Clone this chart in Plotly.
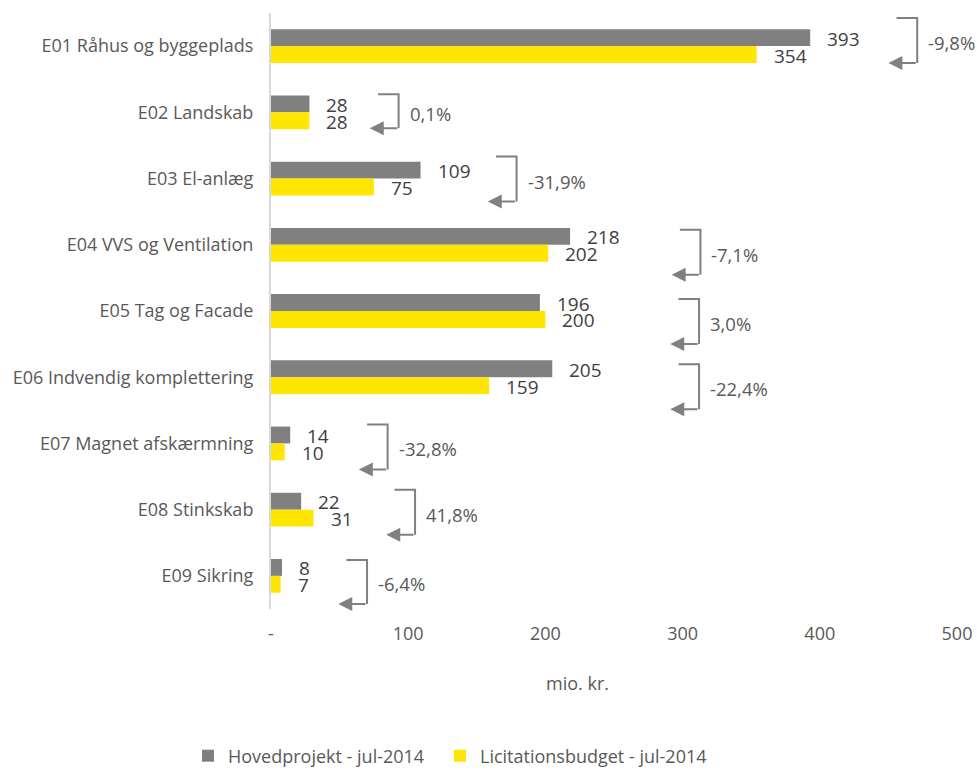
import plotly.graph_objects as go

categories = ["E01 Råhus og byggeplads", "E02 Landskab", "E03 El-anlæg", "E04 VVS og Ventilation",
              "E05 Tag og Facade", "E06 Indvendig komplettering", "E07 Magnet afskærmning",
              "E08 Stinkskab", "E09 Sikring"]
hovedprojekt = [393, 28, 109, 218, 196, 205, 14, 22, 8]
licitation = [354, 28, 75, 202, 200, 159, 10, 31, 7]
change_labels = ["-9,8%", "0,1%", "-31,9%", "-7,1%", "3,0%", "-22,4%", "-32,8%", "41,8%", "-6,4%"]
x_ticks = [0, 100, 200, 300, 400, 500]
x_ticktext = ["-", "100", "200", "300", "400", "500"]

# bracket placement (x in mio. kr., top/bottom as pixel offsets from category centre)
bracket_x = [471, 93, 179, 313, 312, 312, 85, 105, 70]
bracket_top = [-28, -18, -22, -15, -12, -13, -19, -20, -16]
bracket_bot = [17, 16, 23, 30, 33, 32, 26, 25, 28]

GRAY = "#808080"; YELLOW = "#FFE600"; TXT = "#595959"; VAL = "#404040"
FONT = "Open Sans"
W, H = 977, 770
ML, MR, MT, MB = 271, 20, 13, 161
plot_h = H - MT - MB
ppc = plot_h / len(categories)
bargap = 0.49
off = (1 - bargap) / 4

fig = go.Figure()
fig.add_trace(go.Bar(y=categories, x=hovedprojekt, orientation="h", name="Hovedprojekt - jul-2014",
                     marker=dict(color=GRAY, line=dict(width=0)), legend="legend"))
fig.add_trace(go.Bar(y=categories, x=licitation, orientation="h", name="Licitationsbudget - jul-2014",
                     marker=dict(color=YELLOW, line=dict(width=0)), legend="legend2"))

ann = []
shapes = []
for i in range(len(categories)):
    ann.append(dict(x=hovedprojekt[i], y=i - off, xref="x", yref="y", text=str(hovedprojekt[i]), showarrow=False,
                    xanchor="left", yanchor="middle", xshift=15, yshift=-1, font=dict(family=FONT, size=19, color=VAL)))
    ann.append(dict(x=licitation[i], y=i + off, xref="x", yref="y", text=str(licitation[i]), showarrow=False,
                    xanchor="left", yanchor="middle", xshift=15, yshift=-1, font=dict(family=FONT, size=19, color=VAL)))
    top = i + bracket_top[i] / ppc
    bot = i + bracket_bot[i] / ppc
    bx = bracket_x[i]
    shapes.append(dict(type="path", xref="x", yref="y",
                       path=f"M {bx - 15},{top} L {bx},{top} L {bx},{bot}",
                       line=dict(color=GRAY, width=2)))
    ann.append(dict(x=bx - 21, y=bot, ax=bx, ay=bot, xref="x", yref="y", axref="x", ayref="y", text="",
                    showarrow=True, arrowhead=2, arrowsize=1.4, arrowwidth=2, arrowcolor=GRAY, standoff=0))
    mid = i + ((bracket_top[i] + bracket_bot[i]) / 2 + 2) / ppc
    ann.append(dict(x=bx, y=mid, xref="x", yref="y", text=change_labels[i], showarrow=False,
                    xanchor="left", yanchor="middle", xshift=9, font=dict(family=FONT, size=18.5, color=TXT)))

ann.append(dict(x=0.4475, y=-0.124, xref="paper", yref="paper", text="mio. kr.", showarrow=False,
                xanchor="center", yanchor="middle", font=dict(family=FONT, size=18, color=TXT)))

leg = dict(orientation="h", xref="container", yref="container", xanchor="left", y=14 / H, yanchor="middle",
           font=dict(size=18, color=TXT), bgcolor="rgba(0,0,0,0)")
fig.update_layout(
    width=W, height=H, margin=dict(l=ML, r=MR, t=MT, b=MB, autoexpand=False),
    plot_bgcolor="white", paper_bgcolor="white",
    barmode="group", bargap=bargap, bargroupgap=0,
    font=dict(family=FONT, size=18, color=TXT),
    xaxis=dict(range=[0, 500], tickvals=x_ticks, ticktext=x_ticktext, showgrid=False, zeroline=False,
               showline=False, ticks="", ticklabelstandoff=12, automargin=False,
               tickfont=dict(size=18, color=TXT)),
    yaxis=dict(type="category", range=[len(categories) - 0.5, -0.5], showgrid=False, zeroline=False,
               showline=True, linecolor="#D9D9D9", linewidth=2, ticks="", ticklabelstandoff=12,
               automargin=False, tickfont=dict(size=18, color=TXT)),
    showlegend=True,
    legend=dict(leg, x=188 / W),
    legend2=dict(leg, x=440 / W),
    annotations=ann, shapes=shapes,
)

# drop the default 8px body margin so the figure sits at the window's top-left corner
fig.write_html("out.html", config={"displayModeBar": False},
               post_script="document.body.style.margin='0';")
